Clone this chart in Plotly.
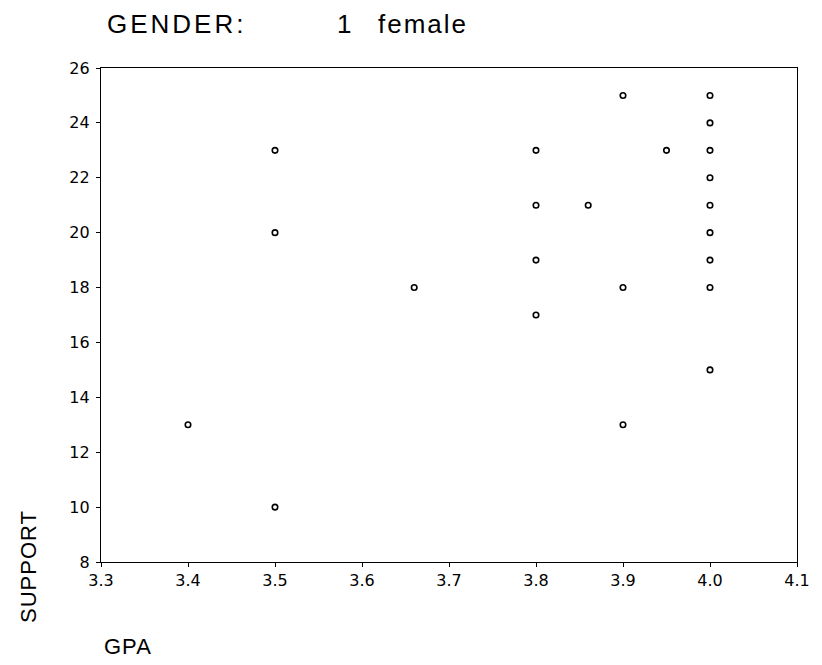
import plotly.graph_objects as go

gpa = [3.4, 3.5, 3.5, 3.5, 3.66, 3.8, 3.8, 3.8, 3.8, 3.86, 3.9, 3.9, 3.9, 3.95,
       4.0, 4.0, 4.0, 4.0, 4.0, 4.0, 4.0, 4.0, 4.0]
support = [13, 23, 20, 10, 18, 23, 21, 19, 17, 21, 25, 18, 13, 23,
           25, 24, 23, 22, 21, 20, 19, 18, 15]
x_ticks = [3.3, 3.4, 3.5, 3.6, 3.7, 3.8, 3.9, 4.0, 4.1]
y_ticks = [8, 10, 12, 14, 16, 18, 20, 22, 24, 26]

tick_font = "DejaVu Sans, Verdana, sans-serif"
label_font = "Liberation Sans, Arial, sans-serif"

# figure is placed at an 8px page offset
W, H = 814, 657
L, R, T, B = 93, 16, 60, 103
OFF = 8

fig = go.Figure()
fig.add_trace(go.Scatter(
    x=gpa, y=support, mode="markers",
    marker=dict(symbol="circle-open", size=5.5, color="black",
                line=dict(width=1.6, color="black")),
    showlegend=False, cliponaxis=False,
))

axis_common = dict(showgrid=False, zeroline=False, showline=True, linecolor="black",
                   linewidth=1.3, mirror=True, ticks="outside", ticklen=4,
                   tickcolor="black", tickwidth=1.2,
                   tickfont=dict(size=16, family=tick_font, color="black"))

fig.update_layout(
    width=W, height=H,
    margin=dict(l=L, r=R, t=T, b=B),
    paper_bgcolor="white", plot_bgcolor="white",
    font=dict(family=label_font, color="black", size=14),
    xaxis=dict(range=[3.3, 4.1], tickvals=x_ticks,
               ticktext=[f"{v:.1f}" for v in x_ticks], **axis_common),
    yaxis=dict(range=[8, 26], tickvals=y_ticks, ticktext=[str(v) for v in y_ticks],
               ticklabelstandoff=3, **axis_common),
)


def px_x(px):
    return (px - OFF - L) / (W - L - R)


def px_y(py):
    return (H - B - (py - OFF)) / (H - T - B)


def add_text(text, x, y, size, xanchor="left", angle=0, spacing=0):
    if spacing:
        text = f'<span style="letter-spacing:{spacing}px">{text}</span>'
    fig.add_annotation(text=text, x=px_x(x), y=px_y(y), xref="paper", yref="paper",
                       xanchor=xanchor, yanchor="middle", textangle=angle,
                       showarrow=False,
                       font=dict(size=size, family=label_font, color="black"))


add_text("GENDER:", 105, 24, 26, spacing=3)
add_text("1", 338, 24, 26)
add_text("female", 380, 24, 26, spacing=2)
add_text("SUPPORT", 27, 566, 22, xanchor="center", angle=-90, spacing=1)
add_text("GPA", 102, 646, 22, spacing=1)

fig.write_html("out.html")
